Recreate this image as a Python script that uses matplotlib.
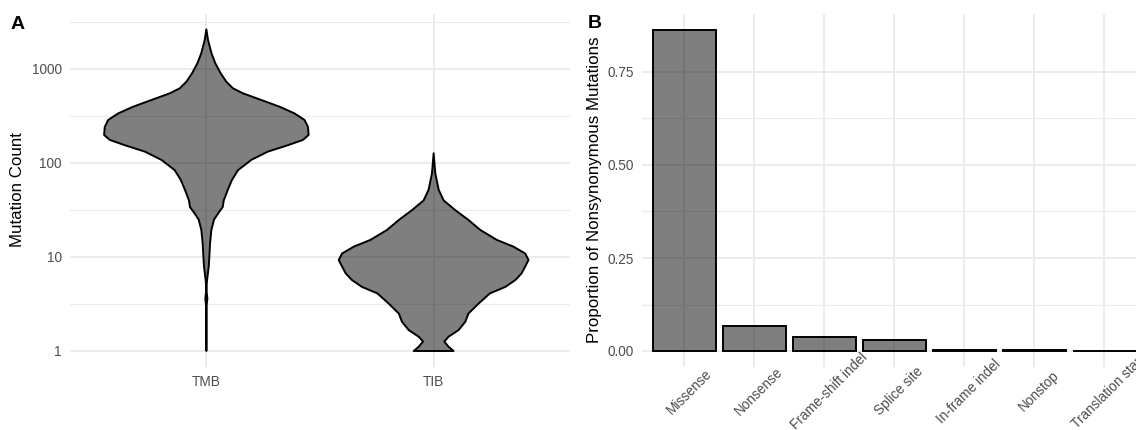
import matplotlib
matplotlib.use("Agg")
import matplotlib.pyplot as plt
import numpy as np

plt.rcParams['font.family'] = ['Liberation Sans', 'DejaVu Sans']

# ---- data ----
groups = ['TMB', 'TIB']

# violin outlines: mutation count levels and relative half-width (1 = widest)
tmb_counts = [2645, 2037, 1468, 1148, 900, 733, 623, 551, 468, 397, 338, 287,
              243, 199, 176, 155, 132, 108, 84, 66, 52, 40, 34, 29, 25, 19.4,
              14, 10, 7.9, 5.7, 4.6, 3.6, 2.85, 2.14, 1]
tmb_width = [0, .016, .05, .088, .14, .195, .26, .358, .537, .716, .86, .96,
             .993, 1.0, .944, .80, .60, .44, .31, .25, .21, .17, .16, .114,
             .075, .049, .036, .029, .023, .007, 0, .01, 0, .003, 0]

tib_counts = [127, 78, 52, 40, 31.6, 24.8, 19.4, 15.2, 12.9, 10.9, 9.3, 7.9,
              6.7, 5.7, 4.8, 4.1, 3.2, 2.5, 2.05, 1.67, 1.42, 1.26, 1.11, 1]
tib_width = [0, .016, .049, .098, .21, .34, .456, .618, .78, .895, .928, .895,
             .86, .80, .70, .55, .44, .34, .31, .244, .146, .104, .146, .195]

mut_types = ['Missense', 'Nonsense', 'Frame-shift indel', 'Splice site',
             'In-frame indel', 'Nonstop', 'Translation start']
proportions = [0.864, 0.068, 0.037, 0.029, 0.004, 0.0015, 0.0008]

# ---- style ----
W, H = 1136, 430
fig = plt.figure(figsize=(W / 100, H / 100), dpi=100)
fig.patch.set_facecolor('white')

tick_col = '#4d4d4d'
grid_col = '#ebebeb'
fill_col = (0, 0, 0, 0.5)


def style_axes(ax):
    for s in ax.spines.values():
        s.set_visible(False)
    ax.set_axisbelow(True)
    ax.grid(which='major', color=grid_col, linewidth=1.4)
    ax.grid(which='minor', axis='y', color=grid_col, linewidth=0.8)
    ax.tick_params(which='both', length=0, labelsize=9.8, labelcolor=tick_col, pad=5.8)
    ax.set_facecolor('white')


# ---- panel A: violins ----
axA = fig.add_axes([70 / W, 63 / H, 500 / W, 353 / H])
style_axes(axA)
axA.set_yscale('log')
for i, (cnt, wid) in enumerate([(tmb_counts, tmb_width), (tib_counts, tib_width)]):
    cnt = np.array(cnt, dtype=float)
    hw = 0.45 * np.array(wid)
    xs = np.concatenate([i - hw, (i + hw)[::-1]])
    ys = np.concatenate([cnt, cnt[::-1]])
    axA.fill(xs, ys, facecolor=fill_col, edgecolor='black', linewidth=1.4,
             joinstyle='round', zorder=3)
axA.set_xlim(-0.6, 1.6)
axA.set_ylim(10 ** (-16 / 94), 10 ** (337 / 94))
axA.set_xticks(range(len(groups)))
axA.set_xticklabels(groups)
axA.set_yticks([1, 10, 100, 1000])
axA.set_yticklabels(['1', '10', '100', '1000'])
axA.set_yticks([10 ** 0.5, 10 ** 1.5, 10 ** 2.5, 10 ** 3.5], minor=True)
axA.yaxis.set_minor_formatter(plt.NullFormatter())
fig.text(18 / W, 1 - 190 / H, 'Mutation Count', rotation=90, ha='center',
         va='center', fontsize=12.2)

# ---- panel B: bars ----
axB = fig.add_axes([642 / W, 63 / H, 504 / W, 353 / H])
style_axes(axB)
xpos = np.arange(len(mut_types))
axB.bar(xpos, proportions, width=0.9, facecolor=fill_col, edgecolor='black',
        linewidth=1.4, zorder=3)
axB.set_xlim(-0.6, len(mut_types) - 0.4)
axB.set_ylim(-16 / 372, 337 / 372)
axB.set_yticks([0, 0.25, 0.5, 0.75])
axB.set_yticklabels(['0.00', '0.25', '0.50', '0.75'])
axB.set_yticks([0.125, 0.375, 0.625], minor=True)
axB.yaxis.set_minor_formatter(plt.NullFormatter())
axB.set_xticks(xpos)
axB.set_xticklabels(mut_types, rotation=45, ha='center', va='top',
                    rotation_mode='anchor')
axB.tick_params(axis='x', pad=14)
fig.text(594 / W, 1 - 190 / H, 'Proportion of Nonsynonymous Mutations',
         rotation=90, ha='center', va='center', fontsize=12.2)

# panel tags
fig.text(11 / W, 1 - 29 / H, 'A', fontsize=14, fontweight='bold', ha='left', va='baseline')
fig.text(588 / W, 1 - 28 / H, 'B', fontsize=14, fontweight='bold', ha='left', va='baseline')

fig.savefig('out.png', dpi=100, facecolor='white')
